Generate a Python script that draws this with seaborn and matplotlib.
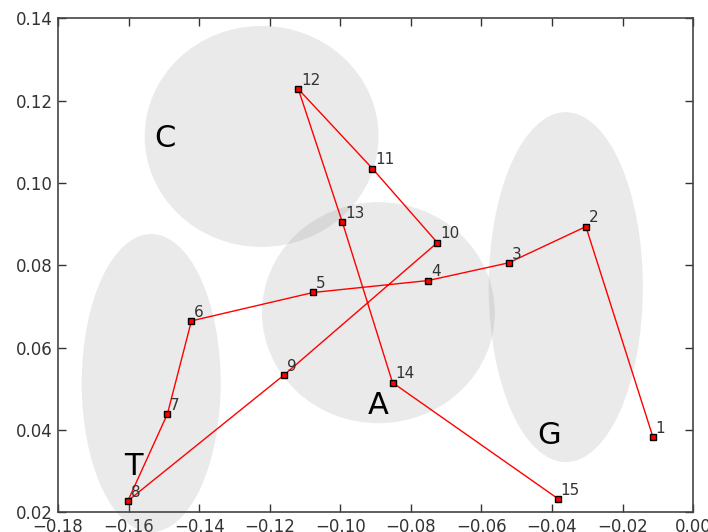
import matplotlib
matplotlib.use("Agg")
import matplotlib.pyplot as plt
import seaborn as sns
import pandas as pd
from matplotlib.patches import Ellipse

# Data
point_ids = list(range(1, 16))
x_vals = [-0.0114, -0.0304, -0.0523, -0.0751, -0.1077, -0.1422, -0.1490, -0.1602,
          -0.1159, -0.0725, -0.0909, -0.1119, -0.0994, -0.0852, -0.0383]
y_vals = [0.0383, 0.0894, 0.0806, 0.0763, 0.0734, 0.0665, 0.0439, 0.0228,
          0.0534, 0.0855, 0.1035, 0.1228, 0.0904, 0.0515, 0.0233]

group_names = ["C", "A", "G", "T"]
group_cx = [-0.1223, -0.0892, -0.0361, -0.1536]
group_cy = [0.1113, 0.0685, 0.0747, 0.0514]
group_w = [0.0663, 0.0660, 0.0437, 0.0394]
group_h = [0.0537, 0.0537, 0.0850, 0.0724]
label_x = [-0.1498, -0.0892, -0.0407, -0.1586]
label_y = [0.1109, 0.0459, 0.0386, 0.0312]

xticks = [-0.18, -0.16, -0.14, -0.12, -0.10, -0.08, -0.06, -0.04, -0.02, 0.00]
yticks = [0.02, 0.04, 0.06, 0.08, 0.10, 0.12, 0.14]

df = pd.DataFrame({"id": point_ids, "x": x_vals, "y": y_vals})

sns.set_style("ticks")
plt.rcParams['font.family'] = ['DejaVu Sans']

fig = plt.figure(figsize=(7.08, 5.32), dpi=100)
ax = fig.add_axes([0.082, 0.037, 0.897, 0.9286])

for name, cx, cy, w, h, lx, ly in zip(group_names, group_cx, group_cy, group_w, group_h, label_x, label_y):
    e = Ellipse((cx, cy), w, h, facecolor=(0.5, 0.5, 0.5), alpha=0.16,
                edgecolor='none', zorder=1, clip_on=False)
    ax.add_patch(e)
    ax.text(lx, ly, name, fontsize=22, ha='center', va='center', color='black', zorder=2)

sns.lineplot(data=df, x="x", y="y", sort=False, estimator=None, ax=ax,
             color='red', linewidth=1.0, marker='s', markersize=5,
             markerfacecolor='red', markeredgecolor='black', markeredgewidth=1.0,
             zorder=3)

for i, xv, yv in zip(point_ids, x_vals, y_vals):
    ax.annotate(str(i), (xv, yv), xytext=(2, 3), textcoords='offset points',
                fontsize=11, color='#333333', zorder=4)

ax.set_xlim(-0.18, 0.0)
ax.set_ylim(0.02, 0.14)
ax.set_xticks(xticks)
ax.set_yticks(yticks)
ax.set_xticklabels([f"{t:.2f}".replace("-", "\u2212") if t != 0 else "0.00" for t in xticks])
ax.set_yticklabels([f"{t:.2f}" for t in yticks])
ax.set_xlabel("")
ax.set_ylabel("")
ax.tick_params(direction='in', top=True, right=True, length=6, width=1,
               labelsize=12, colors='#333333', pad=4)
for s in ax.spines.values():
    s.set_color('#444444')
    s.set_linewidth(1.2)
    s.set_visible(True)

fig.savefig("out.png", dpi=100)
